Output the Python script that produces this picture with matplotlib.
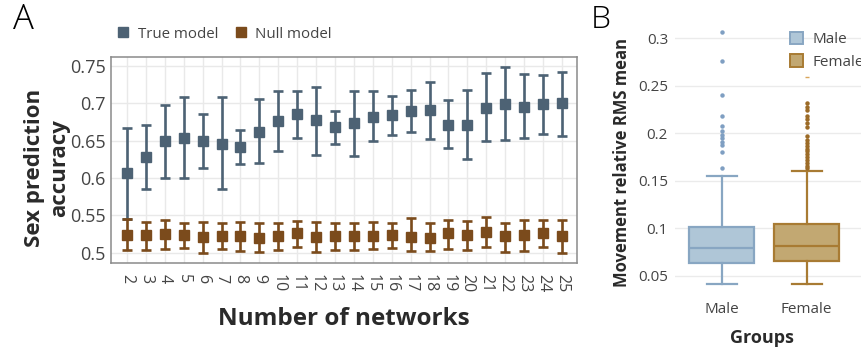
import matplotlib.pyplot as plt
import numpy as np
from matplotlib.lines import Line2D
from matplotlib.patches import Patch

plt.rcParams['font.family'] = ['Open Sans', 'DejaVu Sans']

# accuracy (mean, lower, upper) per number of networks
networks = list(range(2, 26))
true_mean = [0.606, 0.628, 0.649, 0.654, 0.649, 0.646, 0.641, 0.662, 0.676, 0.685, 0.678, 0.668,
             0.673, 0.682, 0.684, 0.690, 0.691, 0.671, 0.671, 0.694, 0.699, 0.695, 0.699, 0.700]
true_low = [0.545, 0.585, 0.600, 0.600, 0.613, 0.585, 0.618, 0.620, 0.636, 0.654, 0.631, 0.646,
            0.629, 0.649, 0.657, 0.661, 0.652, 0.640, 0.626, 0.649, 0.651, 0.653, 0.659, 0.656]
true_high = [0.667, 0.671, 0.698, 0.709, 0.685, 0.708, 0.664, 0.706, 0.717, 0.716, 0.722, 0.690,
             0.717, 0.716, 0.710, 0.718, 0.729, 0.704, 0.718, 0.740, 0.748, 0.739, 0.738, 0.742]

null_mean = [0.523, 0.523, 0.525, 0.523, 0.521, 0.522, 0.522, 0.520, 0.522, 0.526, 0.521, 0.522,
             0.522, 0.522, 0.523, 0.521, 0.520, 0.526, 0.524, 0.527, 0.522, 0.523, 0.526, 0.522]
null_low = [0.503, 0.503, 0.505, 0.506, 0.500, 0.505, 0.502, 0.501, 0.503, 0.508, 0.501, 0.503,
            0.504, 0.505, 0.506, 0.502, 0.502, 0.505, 0.504, 0.507, 0.501, 0.502, 0.507, 0.500]
null_high = [0.545, 0.541, 0.544, 0.540, 0.541, 0.539, 0.541, 0.540, 0.540, 0.542, 0.541, 0.540,
             0.540, 0.541, 0.539, 0.546, 0.539, 0.544, 0.542, 0.547, 0.540, 0.544, 0.544, 0.543]

# movement summary per group
groups = ['Male', 'Female']
q1 = [0.0638, 0.0659]
median = [0.0789, 0.0814]
q3 = [0.1017, 0.1045]
whisk_low = [0.0414, 0.0414]
whisk_high = [0.1554, 0.1606]
male_out = [0.307, 0.276, 0.240, 0.218, 0.208, 0.202, 0.198, 0.195, 0.191, 0.188, 0.180, 0.164]
female_out = [0.2316, 0.228, 0.2245, 0.218, 0.2147, 0.2112, 0.207, 0.1972, 0.193, 0.190, 0.187,
              0.184, 0.181, 0.178, 0.175, 0.172, 0.169, 0.166, 0.163]
female_far = [0.259]

TRUE_C = '#4d6274'
NULL_C = '#7b4b1c'
MALE_FILL, MALE_EDGE, MALE_PT = '#afc6d7', '#88a6c2', '#7f9fc2'
FEM_FILL, FEM_EDGE, FEM_PT = '#c2a872', '#a87b33', '#9c6b27'
TXT = '#444444'

fig = plt.figure(figsize=(8.62, 3.53), dpi=100)

# ---- panel A
ax = fig.add_axes([111 / 862, 1 - 263 / 353, 466 / 862, 206 / 353])
x = np.array(networks)
for mean, lo, hi, c in [(true_mean, true_low, true_high, TRUE_C),
                        (null_mean, null_low, null_high, NULL_C)]:
    mean = np.array(mean)
    err = [mean - np.array(lo), np.array(hi) - mean]
    ax.errorbar(x, mean, yerr=err, fmt='s', color=c, ms=6.5, elinewidth=1.9,
                capsize=3.8, capthick=1.9, zorder=3)

ax.set_xlim(1.15, 25.8)
ax.set_ylim(0.486, 0.762)
ax.set_xticks(networks)
ax.set_xticklabels([str(n) for n in networks], rotation=-90, fontsize=11.5, color=TXT)
ax.set_yticks([0.5, 0.55, 0.6, 0.65, 0.7, 0.75])
ax.set_yticklabels(['0.5', '0.55', '0.6', '0.65', '0.7', '0.75'], fontsize=13, color=TXT)
ax.tick_params(length=0, pad=4)
ax.tick_params(axis='x', pad=8)
ax.grid(True, color='#e9e9e9', linewidth=1)
ax.set_axisbelow(True)
for s in ax.spines.values():
    s.set_color('#8a8a8a')
    s.set_linewidth(1.1)
ax.set_xlabel('Number of networks', fontsize=17.5, fontweight='bold', color='#2a2a2a')
ax.xaxis.set_label_coords(0.5, -0.212)
ax.set_ylabel('Sex prediction\naccuracy', fontsize=16, fontweight='bold', color='#2a2a2a',
              linespacing=1.25)
ax.yaxis.set_label_coords(-0.088, 0.46)

handles = [Line2D([], [], marker='s', ls='none', color=TRUE_C, ms=7),
           Line2D([], [], marker='s', ls='none', color=NULL_C, ms=7)]
fig.legend(handles, ['True model', 'Null model'], loc='center left', ncol=2, frameon=False,
           bbox_to_anchor=(116 / 862, 1 - 34 / 353), fontsize=10.8, handletextpad=0.45,
           handlelength=1.0, borderpad=0, borderaxespad=0,
           columnspacing=1.0, labelcolor=TXT)

fig.text(13 / 862, 1 - 20 / 353, 'A', fontsize=25, fontweight='light', va='center', ha='left')
fig.text(591 / 862, 1 - 20 / 353, 'B', fontsize=23, fontweight='light', va='center', ha='left')

# ---- panel B
bx = fig.add_axes([675 / 862, 1 - 292 / 353, 1 - 675 / 862, 264 / 353])
stats = []
for i, g in enumerate(groups):
    stats.append(dict(label=g, med=median[i], q1=q1[i], q3=q3[i],
                      whislo=whisk_low[i], whishi=whisk_high[i], fliers=[]))
fills = [MALE_FILL, FEM_FILL]
edges = [MALE_EDGE, FEM_EDGE]
for i in range(2):
    bx.bxp([stats[i]], positions=[i], widths=0.765, capwidths=0.35, patch_artist=True,
           showfliers=False,
           boxprops=dict(facecolor=fills[i], edgecolor=edges[i], linewidth=1.6),
           medianprops=dict(color=edges[i], linewidth=1.6),
           whiskerprops=dict(color=edges[i], linewidth=1.6),
           capprops=dict(color=edges[i], linewidth=1.6))

bx.plot(np.zeros(len(male_out)), male_out, 'o', color=MALE_PT, ms=3.2, mew=0)
bx.plot(np.ones(len(female_out)), female_out, 'o', color=FEM_PT, ms=3.2, mew=0)
bx.plot(np.ones(len(female_far)), female_far, '_', color='#d9a55a', ms=3, mew=1)

bx.set_xlim(-0.55, 1.65)
bx.set_ylim(0.033, 0.3108)
bx.set_xticks([0, 1])
bx.set_xticklabels(groups, fontsize=11, color=TXT)
bx.set_yticks([0.05, 0.1, 0.15, 0.2, 0.25, 0.3])
bx.set_yticklabels(['0.05', '0.1', '0.15', '0.2', '0.25', '0.3'], fontsize=11, color=TXT)
bx.tick_params(length=0, pad=5)
bx.tick_params(axis='x', pad=7)
bx.yaxis.grid(True, color='#ebebeb', linewidth=1)
bx.set_axisbelow(True)
for s in bx.spines.values():
    s.set_visible(False)
bx.set_xlabel('Groups', fontsize=13, fontweight='bold', color='#2a2a2a')
bx.xaxis.set_label_coords((762 - 675) / 187, -0.14)
bx.set_ylabel('Movement relative RMS mean', fontsize=12, fontweight='bold', color='#2a2a2a')
bx.yaxis.set_label_coords(-0.235, 0.49)

leg_h = [Patch(facecolor=MALE_FILL, edgecolor=MALE_EDGE, linewidth=1.4),
         Patch(facecolor=FEM_FILL, edgecolor=FEM_EDGE, linewidth=1.4)]
fig.legend(leg_h, groups, loc='upper left', frameon=False, fontsize=11,
           bbox_to_anchor=(776 / 862, 1 - 18 / 353), handlelength=0.9, handleheight=0.9,
           handletextpad=0.6, labelcolor=TXT, labelspacing=0.45)

fig.savefig('out.png', dpi=100)
